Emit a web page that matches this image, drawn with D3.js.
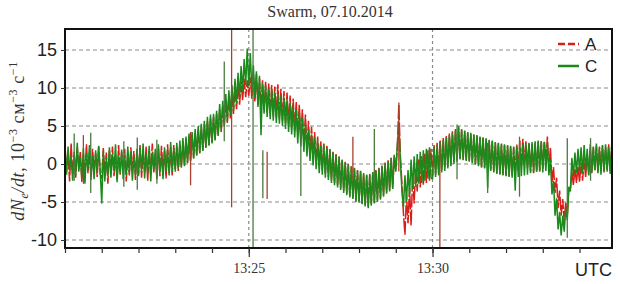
<!DOCTYPE html>
<html>
<head>
<meta charset="utf-8">
<script src="https://cdn.jsdelivr.net/npm/d3@7"></script>
<style>
  body { margin: 0; background: #fff; }
  svg { display: block; }
</style>
</head>
<body>
<svg id="chart" width="620" height="284"></svg>
<script>
// Swarm dN/dt, 13:20 - 13:35 UTC, one sample every 2.5 s (24 per row = 1 minute)
let startTime = Date.UTC(2014, 9, 7, 13, 20, 0)
let stepSec = 2.5

// satellite A (red, dashed)
let seriesA = [
  2.4, -1.0, 1.5, -2.3, 2.7, -1.4, 1.2, -1.8, 2.2, -0.6, 1.7, -2.4, 1.3, -1.6, 2.6, -1.2, 1.5, -2.1, 2.0, -0.9, 1.4, -1.7, 2.3, -1.3,
  -1.9, 2.1, -1.2, 1.5, -2.6, 1.8, -1.0, 2.3, -1.6, 1.2, -2.0, 2.5, -1.4, 1.6, -1.1, 2.0, -2.3, 1.3, -1.5, 2.2, -0.9, 1.7, -2.1, 1.4,
  -1.3, 2.5, -1.8, 1.6, -1.0, 2.3, -2.2, 1.9, -1.4, 2.7, -1.1, 1.4, -2.0, 2.0, -1.6, 2.4, -0.8, 1.7, -1.9, 2.6, -1.2, 2.2, -1.5, 2.5,
  -0.7, 2.3, -0.9, 2.6, -0.4, 3.0, -0.2, 3.3, 0.2, 3.6, 0.5, 3.9, 0.8, 4.2, 1.2, 4.6, 1.5, 4.9, 1.8, 5.3, 2.2, 5.6, 2.5, 6.0,
  2.8, 6.2, 3.2, 6.6, 3.7, 7.2, 4.2, 7.7, 4.9, 8.4, 5.4, 8.9, 6.0, 9.5, 6.6, 10.1, 7.2, 10.5, 7.8, 10.9, 8.4, 11.2, 8.8, 11.0,
  9.0, 11.4, 8.6, 11.6, 8.2, 11.8, 7.8, 11.3, 7.4, 11.0, 7.1, 10.8, 6.8, 10.6, 6.6, 10.4, 6.3, 10.2, 6.1, 10.5, 5.9, 9.9, 5.7, 9.6,
  5.4, 9.4, 5.1, 9.0, 4.8, 8.6, 4.4, 8.2, 3.9, 7.8, 3.4, 7.2, 2.7, 6.5, 2.0, 5.7, 1.3, 4.9, 0.7, 4.2, 0.2, 3.6, -0.3, 3.0,
  -0.8, 2.7, -1.3, 2.4, -1.7, 2.0, -2.1, 1.6, -2.5, 1.3, -2.8, 1.0, -3.2, 0.6, -3.5, 0.3, -3.9, 0.0, -4.2, -0.3, -4.5, -0.5, -4.8, -0.8,
  -4.9, -1.0, -5.2, -1.3, -5.4, -1.5, -5.6, -1.4, -5.3, -1.1, -5.0, -0.8, -4.8, -0.5, -4.5, -0.2, -4.1, 0.2, -3.7, 0.5, -3.4, 0.9, -3.1, 1.2,
  -0.8, 2.0, 7.8, 1.0, -2.5, -6.5, -9.3, -4.0, -7.8, -3.2, -8.1, -1.5, -5.2, -0.6, -3.6, 0.6, -3.1, 1.0, -2.8, 1.4, -2.5, 1.8, -2.2, 2.0,
  -1.6, 2.5, -1.4, 2.8, -1.2, 3.1, -0.8, 3.4, -0.5, 3.7, -0.3, 4.0, 0.0, 4.3, 0.3, 4.6, 0.5, 4.8, 0.7, 4.5, 0.6, 4.3, 0.5, 4.1,
  0.4, 3.9, 0.2, 3.8, 0.0, 3.7, -0.2, 3.5, -0.4, 3.4, -0.5, 3.3, -0.7, 3.1, -0.8, 3.0, -1.0, 2.8, -1.2, 2.7, -1.3, 2.6, -1.4, 2.5,
  -1.5, 2.4, -1.6, 2.3, -1.5, 2.2, -1.3, 2.6, -0.9, 3.1, -0.2, 3.3, 0.1, 3.0, -0.5, 2.8, -1.0, 2.6, -1.2, 2.7, -1.1, 2.9, -0.9, 3.0,
  -0.6, 3.0, 0.4, 3.6, -0.5, 2.2, -2.4, -0.4, -3.8, -1.8, -5.8, -3.5, -6.8, -4.6, -7.6, -5.0, -6.9, -3.2, -3.6, -1.0, -2.8, -0.6, -2.5, -0.3,
  -2.4, 0.2, -2.2, 0.8, -1.8, 1.4, -1.4, 1.9, -1.2, 2.2, -0.9, 2.4, -1.0, 2.3, -0.8, 2.5, -1.1, 2.2, -0.7, 2.6, -0.9, 2.3, -0.8, 2.4
]

// satellite C (green)
let seriesC = [
  1.9, -1.4, 2.3, -0.8, 1.1, -2.2, 1.6, -1.5, 2.8, -1.0, 0.9, -1.9, 2.1, -2.6, 1.4, -0.7, 2.5, -1.3, 1.0, -2.0, 1.8, -1.1, 2.4, -0.9,
  -5.2, 1.7, -2.3, 0.8, -1.6, 2.2, -1.8, 1.3, -0.9, 2.6, -2.4, 1.1, -1.2, 1.9, -2.0, 0.9, -1.5, 2.3, -1.1, 1.6, -2.2, 1.0, -1.4, 2.0,
  -1.6, 2.1, -1.0, 2.7, -1.9, 1.3, -1.2, 2.4, -2.3, 1.5, -0.8, 2.0, -1.7, 2.6, -1.1, 1.2, -2.0, 2.2, -0.9, 1.8, -1.5, 2.9, -1.0, 2.1,
  -1.0, 2.8, -0.6, 3.1, -0.5, 3.4, -0.3, 3.6, 0.1, 4.0, 0.4, 4.2, 0.7, 4.6, 1.1, 5.0, 1.4, 5.3, 1.7, 5.7, 2.1, 6.2, 2.4, 6.5,
  2.7, 6.6, 3.1, 7.0, 3.8, 7.9, 4.4, 8.3, 5.1, 9.2, 5.6, 9.7, 6.4, 10.4, 7.0, 11.2, 7.9, 12.0, 8.7, 12.9, 9.6, 13.8, 10.4, 15.2,
  10.2, 14.6, 9.6, 13.0, 8.7, 12.2, 7.5, 11.6, 3.8, 10.7, 6.6, 10.4, 6.2, 9.9, 5.9, 9.8, 5.7, 9.4, 5.4, 9.2, 5.3, 8.9, 5.0, 8.7,
  4.6, 8.5, 4.2, 8.1, 3.9, 7.6, 3.5, 7.2, 2.7, 6.8, 2.3, 6.1, 1.6, 5.3, 1.0, 4.5, 0.4, 3.9, -0.2, 3.5, -0.7, 3.1, -1.2, 2.5,
  -1.4, 2.6, -1.8, 2.2, -2.1, 1.9, -2.5, 1.5, -2.8, 1.2, -3.1, 0.9, -3.4, 0.6, -3.8, 0.2, -4.1, -0.1, -4.4, -0.3, -4.6, -0.6, -5.0, -0.9,
  -5.1, -0.9, -5.3, -1.2, -5.6, -1.4, -5.8, -1.3, -5.5, -1.1, -5.2, -0.9, -5.0, -0.6, -4.7, -0.3, -4.3, 0.1, -3.9, 0.4, -3.6, 0.8, -3.3, 1.0,
  -1.0, 2.5, 5.2, 0.5, -3.5, -5.7, -1.5, -5.0, -0.8, -4.2, 0.6, -3.3, 1.0, -3.0, 1.3, -2.6, 1.6, -2.5, 1.8, -2.2, 2.0, -1.9, 2.2, -1.8,
  -2.0, 2.2, -1.7, 2.5, -1.5, 2.9, -1.1, 3.2, -0.9, 3.5, -0.6, 3.8, -0.3, 4.1, 0.0, 4.4, 0.3, 5.0, 0.6, 4.6, 0.5, 4.4, 0.4, 4.2,
  0.3, 4.1, 0.1, 3.9, -0.1, 3.8, -0.3, 3.6, -0.5, 3.5, -0.6, 3.4, -3.2, 3.2, -0.9, 3.1, -1.1, 2.9, -1.3, 2.8, -1.4, 2.7, -1.5, 2.6,
  -1.6, 2.5, -1.7, 2.4, -1.8, 2.3, -3.5, 2.3, -1.7, 2.4, -1.6, 2.6, -1.5, 2.7, -1.4, 2.8, -1.2, 2.9, -1.1, 3.0, -1.0, 3.1, -1.0, 3.0,
  -1.1, 2.9, -0.9, 2.7, -1.5, 0.6, -4.0, -2.2, -6.8, -4.5, -8.6, -6.3, -9.4, -6.8, -8.9, -5.8, -7.4, -3.0, -3.5, 0.8, -1.6, 1.5, -1.2, 2.0,
  -1.0, 2.2, -1.3, 2.5, -0.9, 2.0, -1.5, 2.6, -1.1, 2.3, -0.8, 2.7, -1.2, 2.1, -1.4, 2.4, -0.9, 2.6, -1.0, 2.2, -1.3, 2.5, -0.8, 2.3
]

// single-sample spikes (seconds after 13:20, low, high)
let spikeASec = [272, 545, 612, 30, 470, 205, 330]
let spikeALow = [-5.7, -1.0, -11.5, -2.6, -1.8, -2.8, -4.6]
let spikeAHigh = [18, 8.1, 3.0, 3.8, 3.6, 4.2, 1.6]
let spikeCSec = [307, 820, 15, 260, 690, 96, 150, 385, 505, 742, 42, 118, 323, 640, 858]
let spikeCLow = [-12, -9.7, -2.2, 3.0, -3.8, -3.0, -2.6, -4.2, -3.6, -4.3, -3.8, -3.4, -4.5, -2.0, -2.2]
let spikeCHigh = [18, 3.4, 4.0, 13.5, 2.8, 3.0, 3.2, 6.0, 4.6, 3.6, 4.1, 3.5, 1.8, 5.2, 3.4]

let yTicks = [15, 10, 5, 0, -5, -10]
let majorMinutes = [25, 30]

let svg = d3.select('#chart')
let plotLeft = 65, plotRight = 612, plotTop = 29, plotBottom = 248

let xScale = d3.scaleUtc()
  .domain([new Date(startTime), new Date(startTime + 893 * 1000)])
  .range([plotLeft, plotRight])
let yScale = d3.scaleLinear()
  .domain([-11.05, 17.76])
  .range([plotBottom, plotTop])

let timeAt = (i) => new Date(startTime + i * stepSec * 1000)
let majorDates = majorMinutes.map((m) => new Date(Date.UTC(2014, 9, 7, 13, m, 0)))

svg.append('clipPath').attr('id', 'plotClip')
  .append('rect')
  .attr('x', plotLeft).attr('y', plotTop)
  .attr('width', plotRight - plotLeft).attr('height', plotBottom - plotTop)

// grid
let grid = svg.append('g')
  .attr('stroke', '#8a8a8a')
  .attr('stroke-width', 1.2)
  .attr('stroke-dasharray', '4,3')
grid.selectAll('.hgrid')
  .data(yTicks)
  .enter()
  .append('line')
  .attr('x1', plotLeft).attr('x2', plotRight)
  .attr('y1', (d) => yScale(d)).attr('y2', (d) => yScale(d))
grid.selectAll('.vgrid')
  .data(majorDates)
  .enter()
  .append('line')
  .attr('stroke-dasharray', '3,3')
  .attr('x1', (d) => xScale(d)).attr('x2', (d) => xScale(d))
  .attr('y1', plotTop).attr('y2', plotBottom)

let plot = svg.append('g').attr('clip-path', 'url(#plotClip)')

let line = d3.line()
  .x((d, i) => xScale(timeAt(i)))
  .y((d) => yScale(d))

let redColor = '#d91e18'
let greenColor = '#1b8a1b'

plot.append('path')
  .datum(seriesA)
  .attr('d', line)
  .attr('fill', 'none')
  .attr('stroke', redColor)
  .attr('stroke-width', 1.5)
  .attr('stroke-linejoin', 'bevel')
  .attr('stroke-dasharray', '14,2')

plot.append('path')
  .datum(seriesC)
  .attr('d', line)
  .attr('fill', 'none')
  .attr('stroke', greenColor)
  .attr('stroke-width', 1.5)
  .attr('stroke-linejoin', 'bevel')

let drawSpikes = (secs, lows, highs, color) => {
  plot.selectAll(null)
    .data(secs)
    .enter()
    .append('line')
    .attr('x1', (s) => xScale(new Date(startTime + s * 1000)))
    .attr('x2', (s) => xScale(new Date(startTime + s * 1000)))
    .attr('y1', (s, i) => yScale(lows[i]))
    .attr('y2', (s, i) => yScale(highs[i]))
    .attr('stroke', color)
    .attr('stroke-width', 1.3)
}
drawSpikes(spikeASec, spikeALow, spikeAHigh, '#a8402c')
drawSpikes(spikeCSec, spikeCLow, spikeCHigh, '#4a7a3e')

// frame
svg.append('rect')
  .attr('x', plotLeft).attr('y', plotTop)
  .attr('width', plotRight - plotLeft).attr('height', plotBottom - plotTop)
  .attr('fill', 'none')
  .attr('stroke', '#111')
  .attr('stroke-width', 2)

// x axis: minute ticks, labels at 13:25 and 13:30
let minorAxis = d3.axisBottom(xScale)
  .ticks(d3.utcMinute.every(1))
  .tickSize(5)
  .tickFormat('')
svg.append('g')
  .attr('transform', 'translate(0,' + plotBottom + ')')
  .call(minorAxis)
  .call((g) => g.select('.domain').remove())
  .selectAll('line').attr('stroke', '#333').attr('stroke-width', 1.2)

let majorAxis = d3.axisBottom(xScale)
  .tickValues(majorDates)
  .tickSize(9)
  .tickPadding(6)
  .tickFormat(d3.utcFormat('%H:%M'))
let xg = svg.append('g')
  .attr('transform', 'translate(0,' + plotBottom + ')')
  .call(majorAxis)
xg.select('.domain').remove()
xg.selectAll('line').attr('stroke', '#333').attr('stroke-width', 1.2)
xg.selectAll('text')
  .attr('font-family', '"Liberation Serif", "Times New Roman", serif')
  .attr('font-size', 14)
  .attr('fill', '#333')

// y axis
let yAxis = d3.axisLeft(yScale)
  .tickValues(yTicks)
  .tickSize(4)
  .tickPadding(4)
  .tickFormat(d3.format('d'))
let yg = svg.append('g')
  .attr('transform', 'translate(' + plotLeft + ',0)')
  .call(yAxis)
yg.select('.domain').remove()
yg.selectAll('line').attr('stroke', '#333')
yg.selectAll('text')
  .attr('font-family', '"Liberation Sans", Arial, sans-serif')
  .attr('font-size', 18)
  .attr('fill', '#222')
  .text((d) => d < 0 ? '-' + Math.abs(d) : d)

// title
svg.append('text')
  .attr('x', 330).attr('y', 17)
  .attr('text-anchor', 'middle')
  .attr('font-family', '"Liberation Serif", "Times New Roman", serif')
  .attr('font-size', 16)
  .attr('fill', '#333')
  .text('Swarm, 07.10.2014')

// y label
let ylab = svg.append('text')
  .attr('transform', 'translate(24,141) rotate(-90)')
  .attr('text-anchor', 'middle')
  .attr('font-family', '"Liberation Serif", "Times New Roman", serif')
  .attr('font-size', 18)
  .attr('letter-spacing', 0.6)
  .attr('fill', '#333')
ylab.append('tspan').attr('font-style', 'italic').text('dN')
ylab.append('tspan').attr('font-style', 'italic').attr('font-size', 12).attr('dy', 4).text('e')
ylab.append('tspan').attr('font-style', 'italic').attr('dy', -4).text('/dt')
ylab.append('tspan').text(', 10')
ylab.append('tspan').attr('font-size', 12).attr('dy', -7).text('\u22123')
ylab.append('tspan').attr('dy', 7).text(' см')
ylab.append('tspan').attr('font-size', 12).attr('dy', -7).text('\u22123')
ylab.append('tspan').attr('dy', 7).text(' с')
ylab.append('tspan').attr('font-size', 12).attr('dy', -7).text('\u22121')

// legend
let legendNames = ['A', 'C']
let legendColors = [redColor, greenColor]
let legendDash = ['7,3', null]
let legend = svg.append('g')
legendNames.forEach((name, i) => {
  let ly = 44 + i * 22
  legend.append('line')
    .attr('x1', 558).attr('x2', 579)
    .attr('y1', ly).attr('y2', ly)
    .attr('stroke', legendColors[i])
    .attr('stroke-width', 2.5)
    .attr('stroke-dasharray', legendDash[i])
  legend.append('text')
    .attr('x', 585).attr('y', ly + 6)
    .attr('font-family', '"Liberation Sans", Arial, sans-serif')
    .attr('font-size', 17)
    .attr('fill', '#222')
    .text(name)
})

// UTC label
svg.append('text')
  .attr('x', 612).attr('y', 276)
  .attr('text-anchor', 'end')
  .attr('font-family', '"Liberation Sans", Arial, sans-serif')
  .attr('font-size', 18)
  .attr('fill', '#222')
  .text('UTC')
</script>
</body>
</html>
